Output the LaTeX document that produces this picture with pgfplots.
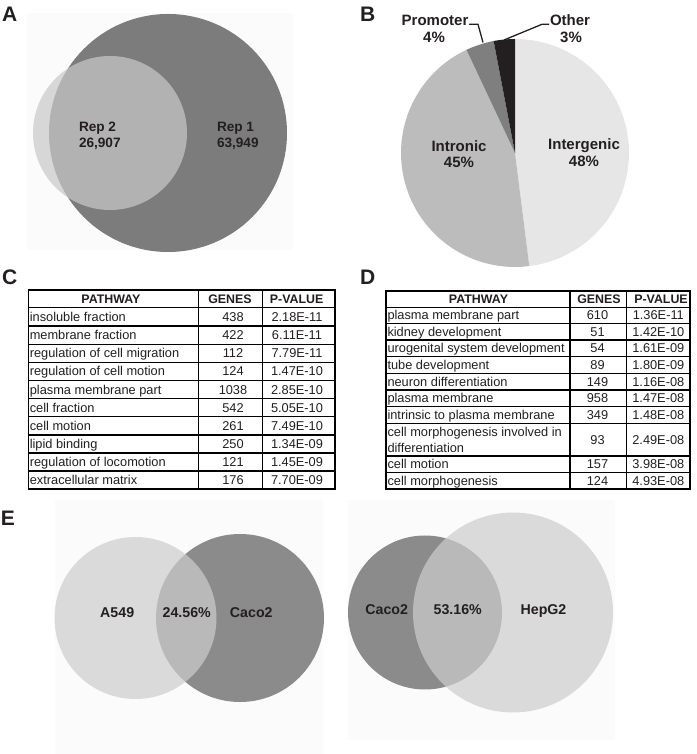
\documentclass[border=0pt]{standalone}
\usepackage{fontspec}
\setmainfont{Liberation Sans}
\usepackage{pgfplots}
\pgfplotsset{compat=1.18}
\definecolor{txt}{HTML}{231F20}
\definecolor{bgA}{HTML}{FBFBFB}
\definecolor{repdark}{HTML}{7C7C7C}
\definecolor{replight}{HTML}{C9C9C9}
\definecolor{vdark}{HTML}{8B8B8C}
\definecolor{vlight}{HTML}{CDCDCD}
\definecolor{pIntergenic}{HTML}{E6E6E6}
\definecolor{pIntronic}{HTML}{BCBCBD}
\definecolor{pPromoter}{HTML}{7F7F7F}
\definecolor{pOther}{HTML}{231F20}
\tikzset{every node/.style={inner sep=0pt,outer sep=0pt,text=txt}}
\newcommand\tf{\fontsize{12.8}{14}\selectfont}
\newcommand\thd{\fontsize{12.4}{14}\selectfont\bfseries}
\newcommand\lbA{\fontsize{13.6}{15}\selectfont\bfseries}
\newcommand\lbB{\fontsize{15}{17}\selectfont\bfseries}
\newcommand\lbE{\fontsize{14.2}{16}\selectfont\bfseries}
\newcommand\lett{\fontsize{21}{24}\selectfont\bfseries}
% table C row: baseline Y, pathway, genes, p-value
\newcommand{\crow}[4]{%
 \node[anchor=base west] at (axis cs:29.8,#1) {\tf #2};
 \node[anchor=base] at (axis cs:233,#1) {\tf #3};
 \node[anchor=base] at (axis cs:297,#1) {\tf #4};}
\newcommand{\drow}[4]{%
 \node[anchor=base west] at (axis cs:387.5,#1) {\tf #2};
 \node[anchor=base] at (axis cs:597.5,#1) {\tf #3};
 \node[anchor=base] at (axis cs:658.3,#1) {\tf #4};}
\begin{document}
\begin{tikzpicture}
\begin{axis}[width=696pt,height=754pt,scale only axis,
  xmin=0,xmax=696,ymin=0,ymax=754,hide axis,clip=false]
\fill[white] (axis cs:0,0) rectangle (axis cs:696,754);
% ---------- panel A ----------
\fill[bgA] (axis cs:27,504) rectangle (axis cs:293,741);
\fill[repdark] (axis cs:168,621) circle[radius=119pt];
\fill[replight,fill opacity=0.71] (axis cs:110,621) circle[radius=77pt];
\node[anchor=base west] at (axis cs:79,622) {\lbA Rep 2};
\node[anchor=base west] at (axis cs:79,606) {\lbA 26,907};
\node[anchor=base west] at (axis cs:217,622) {\lbA Rep 1};
\node[anchor=base west] at (axis cs:217,606) {\lbA 63,949};
\node[anchor=base west] at (axis cs:2,732) {\lett A};
% ---------- panel B (pie: 48, 45, 4, 3 %) ----------
\fill[pIntergenic] (axis cs:515,601) -- +(90:114pt) arc[start angle=90,delta angle={-48*3.6},radius=114pt] -- cycle;
\fill[pIntronic] (axis cs:515,601) -- +({90-48*3.6}:114pt) arc[start angle={90-48*3.6},delta angle={-45*3.6},radius=114pt] -- cycle;
\fill[pPromoter] (axis cs:515,601) -- +({90-93*3.6}:114pt) arc[start angle={90-93*3.6},delta angle={-4*3.6},radius=114pt] -- cycle;
\fill[pOther] (axis cs:515,601) -- +({90-97*3.6}:114pt) arc[start angle={90-97*3.6},delta angle={-3*3.6},radius=114pt] -- cycle;
\node[anchor=base] at (axis cs:584,604) {\lbB Intergenic};
\node[anchor=base] at (axis cs:584,587) {\lbB 48\%};
\node[anchor=base] at (axis cs:459,602) {\lbB Intronic};
\node[anchor=base] at (axis cs:459,586) {\lbB 45\%};
\node[anchor=base] at (axis cs:435,728) {\lbB Promoter};
\node[anchor=base] at (axis cs:434,711) {\lbB 4\%};
\node[anchor=base] at (axis cs:570,728) {\lbB Other};
\node[anchor=base] at (axis cs:571,711) {\lbB 3\%};
\draw[line width=1.3pt,txt] (axis cs:469,729.7) -- (axis cs:478,729.7) -- (axis cs:483,711.5);
\draw[line width=1.3pt,txt] (axis cs:549,729.7) -- (axis cs:542,729.7) -- (axis cs:504,714);
\node[anchor=base west] at (axis cs:360,732) {\lett B};
% ---------- panel C ----------
\node[anchor=base west] at (axis cs:2,469) {\lett C};
\draw[line width=1.6pt] (axis cs:28.3,464) rectangle (axis cs:335,265);
\draw[line width=1.4pt] (axis cs:198.7,464) -- (axis cs:198.7,265);
\draw[line width=1.4pt] (axis cs:262.3,464) -- (axis cs:262.3,265);
\pgfplotsinvokeforeach{446.3,428,409.7,391.7,373.3,355.3,337.3,319,301,283}{
  \draw[line width=1.4pt] (axis cs:28.3,#1) -- (axis cs:335,#1);}
\node[anchor=base] at (axis cs:111,450.6) {\thd PATHWAY};
\node[anchor=base] at (axis cs:230,450.6) {\thd GENES};
\node[anchor=base] at (axis cs:296.7,450.6) {\thd P-VALUE};
\crow{432.6}{insoluble fraction}{438}{2.18E-11}
\crow{414.3}{membrane fraction}{422}{6.11E-11}
\crow{396.2}{regulation of cell migration}{112}{7.79E-11}
\crow{378}{regulation of cell motion}{124}{1.47E-10}
\crow{359.8}{plasma membrane part}{1038}{2.85E-10}
\crow{341.8}{cell fraction}{542}{5.05E-10}
\crow{323.6}{cell motion}{261}{7.49E-10}
\crow{305.5}{lipid binding}{250}{1.34E-09}
\crow{287.5}{regulation of locomotion}{121}{1.45E-09}
\crow{269.5}{extracellular matrix}{176}{7.70E-09}
% ---------- panel D ----------
\node[anchor=base west] at (axis cs:360,469) {\lett D};
\draw[line width=1.6pt] (axis cs:385.7,463) rectangle (axis cs:690,265);
\draw[line width=1.4pt] (axis cs:570,463) -- (axis cs:570,265);
\draw[line width=1.4pt] (axis cs:626.7,463) -- (axis cs:626.7,265);
\pgfplotsinvokeforeach{446.7,430.3,414,397.3,380.7,364,347.3,330.7,298,281.3}{
  \draw[line width=1.4pt] (axis cs:385.7,#1) -- (axis cs:690,#1);}
\node[anchor=base] at (axis cs:478.5,450.3) {\thd PATHWAY};
\node[anchor=base] at (axis cs:599,450.3) {\thd GENES};
\node[anchor=base] at (axis cs:661,450.3) {\thd P-VALUE};
\drow{434}{plasma membrane part}{610}{1.36E-11}
\drow{417.6}{kidney development}{51}{1.42E-10}
\drow{401.1}{urogenital system development}{54}{1.61E-09}
\drow{384.5}{tube development}{89}{1.80E-09}
\drow{367.8}{neuron differentiation}{149}{1.16E-08}
\drow{351.1}{plasma membrane}{958}{1.47E-08}
\drow{334.5}{intrinsic to plasma membrane}{349}{1.48E-08}
\drow{309.8}{}{93}{2.49E-08}
\node[anchor=base west] at (axis cs:387.5,317.9) {\tf cell morphogenesis involved in};
\node[anchor=base west] at (axis cs:387.5,301.2) {\tf differentiation};
\drow{285.1}{cell motion}{157}{3.98E-08}
\drow{268.6}{cell morphogenesis}{124}{4.93E-08}
% ---------- panel E ----------
\node[anchor=base west] at (axis cs:1,228) {\lett E};
\fill[bgA] (axis cs:55,0) rectangle (axis cs:323,254);
\fill[bgA] (axis cs:348,14) rectangle (axis cs:615,254);
\fill[vdark] (axis cs:240,136) circle[radius=84pt];
\fill[vlight,fill opacity=0.7] (axis cs:135.5,136) circle[radius=81pt];
\node[anchor=base] at (axis cs:117.2,136) {\lbE A549};
\node[anchor=base] at (axis cs:186.7,136) {\lbE 24.56\%};
\node[anchor=base] at (axis cs:251.3,136) {\lbE Caco2};
\fill[vdark] (axis cs:425,141.5) circle[radius=77pt];
\fill[vlight,fill opacity=0.7] (axis cs:513,141.5) circle[radius=100pt];
\node[anchor=base] at (axis cs:386.7,139) {\lbE Caco2};
\node[anchor=base] at (axis cs:457.7,139) {\lbE 53.16\%};
\node[anchor=base] at (axis cs:543.5,139) {\lbE HepG2};
\end{axis}
\end{tikzpicture}
\end{document}
